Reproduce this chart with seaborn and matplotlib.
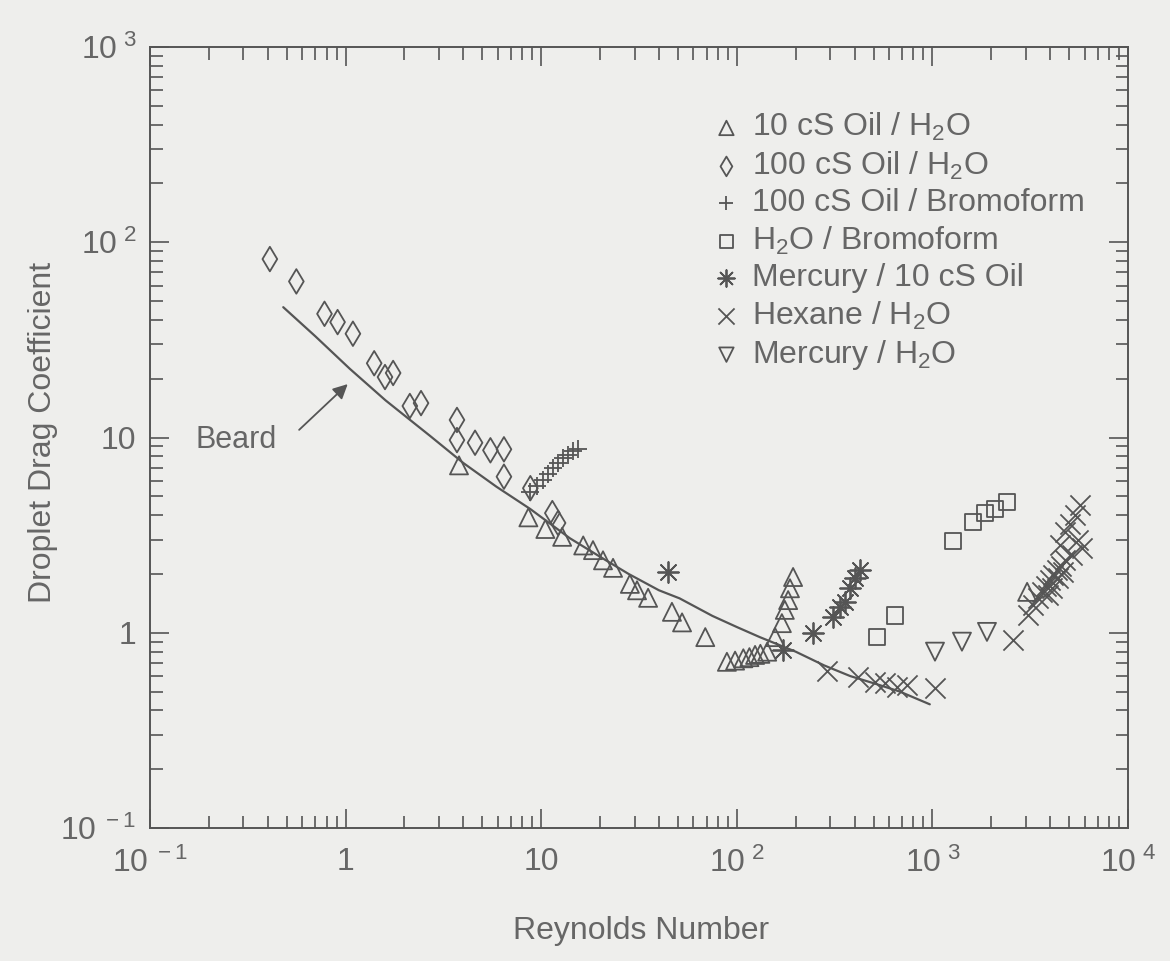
import matplotlib
matplotlib.use("Agg")
import matplotlib.pyplot as plt
import matplotlib.ticker as mticker
import numpy as np
import pandas as pd
import seaborn as sns

# ---------------- data ----------------
oil10_re = [3.8, 8.6, 10.5, 12.8, 16.4, 18.4, 20.7, 23.3, 28.4, 30.9, 35.2, 46.6, 52.5, 69,
            89, 98, 108, 116, 124, 132, 143, 157, 170, 176, 183, 187, 194, 3050]
oil10_cd = [7.2, 3.9, 3.4, 3.1, 2.8, 2.65, 2.35, 2.15, 1.78, 1.65, 1.51, 1.28, 1.13, 0.95,
            0.71, 0.72, 0.74, 0.75, 0.77, 0.78, 0.80, 0.95, 1.12, 1.31, 1.47, 1.69, 1.93, 1.62]

oil100_re = [0.41, 0.56, 0.78, 0.91, 1.09, 1.40, 1.59, 1.75, 2.13, 2.43, 3.71, 3.71, 4.59,
             5.5, 6.45, 6.45, 8.8, 11.4, 12.2]
oil100_cd = [82, 63, 43, 39, 34, 24, 20.4, 21.4, 14.5, 15.0, 12.3, 9.7, 9.4,
             8.6, 8.7, 6.3, 5.5, 4.1, 3.65]

brom100_re = [8.8, 9.5, 10.2, 10.8, 11.5, 12.2, 12.9, 13.7, 14.5, 15.4]
brom100_cd = [5.25, 5.64, 6.05, 6.5, 6.97, 7.4, 7.85, 8.1, 8.5, 8.7]

h2obrom_re = [521, 644, 1274, 1614, 1857, 2090, 2405]
h2obrom_cd = [0.95, 1.23, 2.95, 3.69, 4.10, 4.30, 4.67]

hg10_re = [44.5, 172, 245, 310, 337, 357, 379, 402, 427]
hg10_cd = [2.05, 0.82, 1.0, 1.20, 1.36, 1.44, 1.69, 1.91, 2.09]

hex_re = [289, 417, 509, 572, 659, 741, 1031, 2583, 3083, 3268, 3467, 3631, 3808, 3899,
          3992, 4085, 4139, 4335, 4385, 4487, 4540, 4656, 4764, 4764, 5047, 5176, 5358,
          5546, 5689, 5821]
hex_cd = [0.64, 0.59, 0.56, 0.55, 0.53, 0.54, 0.52, 0.92, 1.23, 1.39, 1.51, 1.62, 1.73, 1.56,
          1.86, 1.69, 1.97, 2.09, 1.91, 2.81, 2.20, 2.05, 2.36, 3.28, 3.60, 2.50, 4.01,
          2.98, 4.51, 2.72]

hgh2o_re = [1031, 1416, 1901]
hgh2o_cd = [0.80, 0.90, 1.01]

beard_re = [0.48, 0.7, 1.05, 1.6, 2.7, 4, 5.9, 8.8, 14, 20, 28, 40, 51, 75, 100, 131,
            200, 280, 380, 520, 680, 970]
beard_cd = [46.5, 33, 22.5, 15.5, 10.2, 7.4, 5.6, 4.3, 3.05, 2.45, 2.0, 1.65, 1.5, 1.22,
            1.07, 0.95, 0.8, 0.68, 0.6, 0.545, 0.5, 0.43]

x_ticks = [0.1, 1, 10, 100, 1000, 10000]
x_labels = [r"$10^{\ -1}$", "1", "10", r"$10^{\ 2}$", r"$10^{\ 3}$", r"$10^{\ 4}$"]
y_ticks = [0.1, 1, 10, 100, 1000]
y_labels = [r"$10^{\ -1}$", "1", "10", r"$10^{\ 2}$", r"$10^{\ 3}$"]

# ---------------- style ----------------
BG = "#eeeeec"
INK = "#555555"
TXT = "#666666"
FONT = ["Liberation Sans", "DejaVu Sans"]

sns.set_theme(style="ticks")
plt.rcParams["font.family"] = FONT
plt.rcParams["mathtext.fontset"] = "custom"
plt.rcParams["mathtext.rm"] = "Liberation Sans"
plt.rcParams["mathtext.it"] = "Liberation Sans"
plt.rcParams["mathtext.bf"] = "Liberation Sans"

fig = plt.figure(figsize=(11.70, 9.61), dpi=100, facecolor=BG)
ax = fig.add_axes([150 / 1170, 1 - 828 / 961, 978 / 1170, 781 / 961])
ax.set_facecolor(BG)
ax.set_xscale("log")
ax.set_yscale("log")
ax.set_xlim(0.1, 10000)
ax.set_ylim(0.1, 1000)

sns.lineplot(x=beard_re, y=beard_cd, ax=ax, color=INK, lw=1.6, estimator=None, sort=False)

ASTER = (8, 2, 0)
series = [
    (oil10_re, oil10_cd, "^", 13, True, "10 cS Oil / H$_2$O"),
    (oil100_re, oil100_cd, "d", 12.5, True, "100 cS Oil / H$_2$O"),
    (brom100_re, brom100_cd, "+", 13, False, "100 cS Oil / Bromoform"),
    (h2obrom_re, h2obrom_cd, "s", 12, True, "H$_2$O / Bromoform"),
    (hg10_re, hg10_cd, ASTER, 15, False, "Mercury / 10 cS Oil"),
    (hex_re, hex_cd, "x", 14.5, False, "Hexane / H$_2$O"),
    (hgh2o_re, hgh2o_cd, "v", 13, True, "Mercury / H$_2$O"),
]
for xs, ys, m, ms, filled, lab in series:
    if filled:
        sns.scatterplot(x=xs, y=ys, ax=ax, marker=m, s=ms ** 2, color=INK,
                        facecolor="none", edgecolor=INK, linewidth=1.3, label=lab)
    else:
        sns.scatterplot(x=xs, y=ys, ax=ax, marker=m, s=ms ** 2, color=INK,
                        edgecolor=INK, linewidth=1.3, label=lab)

ax.text(0.17, 9.7, "Beard", ha="left", va="center", fontsize=22, color=TXT)
ax.annotate("", xy=(1.05, 19.2), xytext=(0.565, 10.7),
            arrowprops=dict(arrowstyle="-|>", color=INK, lw=1.3, mutation_scale=22))

leg = ax.legend(loc="upper left", bbox_to_anchor=(0.56, 0.934), frameon=False,
                fontsize=23, handletextpad=0.3, labelspacing=0.2, borderaxespad=0,
                handlelength=1.0, markerscale=0.8)
for t in leg.get_texts():
    t.set_color(TXT)

ax.set_xticks(x_ticks)
ax.set_xticklabels(x_labels)
ax.set_yticks(y_ticks)
ax.set_yticklabels(y_labels)
ax.xaxis.set_minor_locator(mticker.LogLocator(base=10, subs=np.arange(2, 10), numticks=20))
ax.yaxis.set_minor_locator(mticker.LogLocator(base=10, subs=np.arange(2, 10), numticks=20))
ax.xaxis.set_minor_formatter(mticker.NullFormatter())
ax.yaxis.set_minor_formatter(mticker.NullFormatter())
ax.tick_params(which="both", direction="in", top=True, right=True, color=INK, width=1.2)
ax.tick_params(which="major", length=14, labelsize=23, labelcolor=TXT)
ax.tick_params(axis="x", which="major", pad=14)
ax.tick_params(axis="y", which="major", pad=10)
ax.tick_params(which="minor", length=9)
for sp in ax.spines.values():
    sp.set_color(INK)
    sp.set_linewidth(1.4)

ax.set_xlabel("Reynolds Number", fontsize=23, color=TXT)
ax.set_ylabel("Droplet Drag Coefficient", fontsize=23, color=TXT)
ax.xaxis.set_label_coords(0.502, -0.113)
ax.yaxis.set_label_coords(-0.094, 0.506)

fig.savefig("out.png", dpi=100, facecolor=BG)
